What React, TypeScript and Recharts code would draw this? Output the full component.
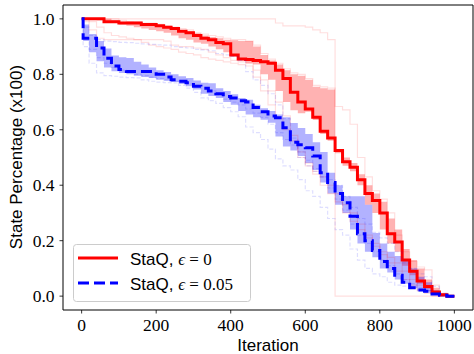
import React from "react";
import { ComposedChart, Line, Area, XAxis, YAxis, ReferenceArea } from "recharts";

// iteration grid (the extra 4 catches the first drop of the eps=0.05 curve)
const ITER = [
  0, 4, 20, 40, 60, 80, 100, 120, 140, 160, 180, 200, 220, 240, 260, 280, 300, 320, 340, 360, 380,
  400, 420, 440, 460, 480, 500, 520, 540, 560, 580, 600, 620, 640, 660, 680, 700, 720, 740, 760, 780,
  800, 820, 840, 860, 880, 900, 920, 940, 960, 980, 1000,
];

// StaQ, eps = 0
const RED_MEAN = [
  1.0, 1.0, 1.0, 1.0, 0.99, 0.99,
  0.985, 0.985, 0.985, 0.98, 0.98,
  0.975, 0.97, 0.965, 0.955, 0.95,
  0.94, 0.93, 0.925, 0.915, 0.91,
  0.87, 0.855, 0.853, 0.85, 0.845,
  0.84, 0.815, 0.785, 0.735, 0.7,
  0.675, 0.645, 0.595, 0.57, 0.525,
  0.485, 0.465, 0.42, 0.37, 0.345,
  0.3, 0.225, 0.195, 0.13, 0.09,
  0.055, 0.035, 0.015, 0.005, 0.0,
  0.0,
];
const RED_HI = [
  1.0, 1.0, 1.0, 1.0, 1.0, 0.995,
  0.99, 0.99, 0.985, 0.985, 0.98,
  0.978, 0.972, 0.965, 0.96, 0.955,
  0.948, 0.94, 0.935, 0.93, 0.925,
  0.923, 0.92, 0.92, 0.9, 0.87,
  0.85, 0.835, 0.815, 0.8, 0.795,
  0.78, 0.755, 0.75, 0.745, 0.53,
  0.5, 0.48, 0.44, 0.4, 0.37,
  0.34, 0.28, 0.24, 0.17, 0.13,
  0.1, 0.06, 0.03, 0.01, 0.0,
  0.0,
];
const RED_LO = [
  1.0, 1.0, 1.0, 0.995, 0.985, 0.985,
  0.98, 0.975, 0.97, 0.965, 0.96,
  0.955, 0.95, 0.94, 0.93, 0.925,
  0.915, 0.91, 0.9, 0.89, 0.88,
  0.865, 0.85, 0.84, 0.835, 0.8,
  0.78, 0.74, 0.7, 0.67, 0.66,
  0.665, 0.635, 0.585, 0.56, 0.515,
  0.47, 0.45, 0.4, 0.33, 0.3,
  0.24, 0.19, 0.16, 0.11, 0.075,
  0.045, 0.025, 0.01, 0.0, 0.0,
  0.0,
];
const RED_RUN_1 = [
  1.0, 1.0, 1.0, 1.0, 1.0, 1.0,
  1.0, 1.0, 1.0, 1.0, 1.0,
  1.0, 1.0, 1.0, 1.0, 1.0,
  1.0, 1.0, 1.0, 1.0, 1.0,
  1.0, 1.0, 1.0, 1.0, 1.0,
  1.0, 0.985, 0.975, 0.975, 0.975,
  0.97, 0.96, 0.95, 0.925, 0.0,
  0.0, 0.0, 0.0, 0.0, 0.0,
  0.0, 0.0, 0.0, 0.0, 0.0,
  0.0, 0.0, 0.0, 0.0, 0.0,
  0.0,
];
const RED_RUN_2 = [
  1.0, 1.0, 1.0, 1.0, 1.0, 1.0,
  0.995, 0.99, 0.99, 0.985, 0.985,
  0.98, 0.975, 0.97, 0.965, 0.96,
  0.95, 0.945, 0.94, 0.935, 0.93,
  0.925, 0.925, 0.92, 0.905, 0.875,
  0.855, 0.84, 0.82, 0.805, 0.8,
  0.785, 0.76, 0.755, 0.75, 0.684,
  0.672, 0.62, 0.5, 0.43, 0.38,
  0.35, 0.3, 0.22, 0.16, 0.125,
  0.105, 0.095, 0.04, 0.01, 0.0,
  0.0,
];
const RED_RUN_3 = [
  1.0, 0.99, 0.96, 0.93, 0.925, 0.925,
  0.925, 0.925, 0.925, 0.925, 0.925,
  0.925, 0.92, 0.905, 0.9, 0.9,
  0.895, 0.89, 0.88, 0.87, 0.86,
  0.85, 0.845, 0.84, 0.79, 0.74,
  0.69, 0.64, 0.6, 0.56, 0.52,
  0.48, 0.44, 0.4, 0.37, 0.34,
  0.3, 0.27, 0.24, 0.21, 0.18,
  0.15, 0.12, 0.09, 0.06, 0.04,
  0.02, 0.01, 0.0, 0.0, 0.0,
  0.0,
];
const RED_RUN_4 = [
  1.0, 1.0, 0.99, 0.97, 0.95, 0.94,
  0.935, 0.93, 0.925, 0.915, 0.905,
  0.9, 0.895, 0.89, 0.88, 0.875,
  0.87, 0.86, 0.855, 0.85, 0.845,
  0.84, 0.835, 0.83, 0.815, 0.78,
  0.74, 0.7, 0.65, 0.58, 0.5,
  0.47, 0.45, 0.43, 0.4, 0.37,
  0.33, 0.3, 0.26, 0.22, 0.19,
  0.16, 0.14, 0.12, 0.09, 0.06,
  0.04, 0.02, 0.01, 0.0, 0.0,
  0.0,
];

// StaQ, eps = 0.05
const BLUE_MEAN = [
  1.0, 0.93, 0.93, 0.895, 0.858, 0.83,
  0.817, 0.81, 0.81, 0.81, 0.81,
  0.8, 0.79, 0.78, 0.775, 0.77,
  0.757, 0.75, 0.74, 0.73, 0.72,
  0.715, 0.705, 0.7, 0.68, 0.665,
  0.65, 0.643, 0.607, 0.555, 0.546,
  0.535, 0.505, 0.445, 0.41, 0.37,
  0.337, 0.288, 0.225, 0.2, 0.165,
  0.125, 0.1, 0.075, 0.05, 0.03,
  0.022, 0.018, 0.008, 0.003, 0.0,
  0.0,
];
const BLUE_HI = [
  1.0, 0.98, 0.945, 0.92, 0.893, 0.868,
  0.862, 0.859, 0.845, 0.835, 0.825,
  0.815, 0.808, 0.8, 0.793, 0.787,
  0.778, 0.77, 0.768, 0.75, 0.74,
  0.728, 0.715, 0.708, 0.69, 0.678,
  0.668, 0.655, 0.645, 0.624, 0.606,
  0.585, 0.555, 0.52, 0.445, 0.4,
  0.36, 0.36, 0.36, 0.33, 0.228,
  0.19, 0.16, 0.145, 0.13, 0.1,
  0.07, 0.05, 0.02, 0.005, 0.0,
  0.0,
];
const BLUE_LO = [
  1.0, 0.92, 0.88, 0.847, 0.825, 0.811,
  0.805, 0.8, 0.795, 0.79, 0.787,
  0.78, 0.777, 0.772, 0.765, 0.757,
  0.745, 0.73, 0.722, 0.715, 0.7,
  0.69, 0.668, 0.655, 0.645, 0.636,
  0.625, 0.576, 0.54, 0.525, 0.505,
  0.48, 0.455, 0.41, 0.37, 0.33,
  0.3, 0.24, 0.19, 0.16, 0.14,
  0.1, 0.085, 0.06, 0.045, 0.028,
  0.018, 0.012, 0.005, 0.0, 0.0,
  0.0,
];
const BLUE_RUN_1 = [
  1.0, 0.97, 0.94, 0.925, 0.92, 0.918,
  0.915, 0.914, 0.912, 0.91, 0.908,
  0.906, 0.905, 0.9, 0.897, 0.895,
  0.89, 0.888, 0.885, 0.875, 0.87,
  0.865, 0.85, 0.81, 0.78, 0.76,
  0.73, 0.69, 0.64, 0.57, 0.5,
  0.47, 0.45, 0.43, 0.42, 0.4,
  0.36, 0.32, 0.28, 0.26, 0.23,
  0.21, 0.19, 0.16, 0.12, 0.1,
  0.08, 0.07, 0.035, 0.01, 0.0,
  0.0,
];
const BLUE_RUN_2 = [
  1.0, 0.9, 0.84, 0.805, 0.795, 0.793,
  0.79, 0.788, 0.787, 0.78, 0.775,
  0.772, 0.77, 0.769, 0.76, 0.75,
  0.735, 0.715, 0.705, 0.695, 0.68,
  0.665, 0.647, 0.61, 0.59, 0.565,
  0.53, 0.495, 0.47, 0.455, 0.42,
  0.38, 0.36, 0.32, 0.28, 0.24,
  0.22, 0.17, 0.13, 0.1, 0.08,
  0.07, 0.05, 0.04, 0.036, 0.03,
  0.024, 0.02, 0.01, 0.0, 0.0,
  0.0,
];
const BLUE_RUN_3 = [
  1.0, 0.93, 0.89, 0.86, 0.84, 0.825,
  0.815, 0.81, 0.8, 0.795, 0.79,
  0.785, 0.78, 0.775, 0.77, 0.765,
  0.76, 0.75, 0.74, 0.725, 0.71,
  0.7, 0.69, 0.675, 0.66, 0.645,
  0.62, 0.59, 0.565, 0.545, 0.52,
  0.49, 0.46, 0.43, 0.39, 0.35,
  0.31, 0.26, 0.22, 0.19, 0.16,
  0.13, 0.11, 0.08, 0.06, 0.045,
  0.03, 0.02, 0.01, 0.0, 0.0,
  0.0,
];

const X_TICKS = [0, 200, 400, 600, 800, 1000];
const Y_TICKS = [0, 0.2, 0.4, 0.6, 0.8, 1.0];
const LEGEND_LABELS = ["0", "0.05"];

const data = ITER.map((it, i) => ({
  it,
  rMean: RED_MEAN[i],
  rBand: [RED_LO[i], RED_HI[i]],
  r1: RED_RUN_1[i],
  r2: RED_RUN_2[i],
  r3: RED_RUN_3[i],
  r4: RED_RUN_4[i],
  bMean: BLUE_MEAN[i],
  bBand: [BLUE_LO[i], BLUE_HI[i]],
  b1: BLUE_RUN_1[i],
  b2: BLUE_RUN_2[i],
  b3: BLUE_RUN_3[i],
}));

const W = 474;
const H = 354;
const SERIF = "Liberation Serif";
const SANS = "Liberation Sans";

const faintRed = "rgba(255,0,0,0.13)";
const faintBlue = "rgba(0,0,255,0.13)";

// tick labels in a serif face, like the LaTeX-rendered originals
const XTick = ({ x, y, payload }: any) => (
  <text x={x} y={y + 15} textAnchor="middle" fontFamily={SERIF} fontSize={17.5} fill="#000">
    {payload.value}
  </text>
);
const YTick = ({ x, y, payload }: any) => (
  <text x={x} y={y + 6} textAnchor="end" fontFamily={SERIF} fontSize={17.5} fill="#000">
    {Number(payload.value).toFixed(1)}
  </text>
);

export default function App() {
  return (
    <div style={{ position: "absolute", left: 0, top: 0, width: W, height: H, background: "#fff" }}>
      <ComposedChart width={W} height={H} data={data} margin={{ top: 5, right: 1, bottom: 0, left: 0 }}>
        <XAxis
          dataKey="it"
          type="number"
          domain={[-50, 1050]}
          ticks={X_TICKS}
          interval={0}
          tick={<XTick />}
          tickSize={3.5}
          tickMargin={2}
          tickLine={{ stroke: "#000", strokeWidth: 0.8 }}
          axisLine={false}
          height={44}
          label={{
            content: () => (
              <text x={268} y={351} textAnchor="middle" fontFamily={SANS} fontSize={17} fill="#000">
                Iteration
              </text>
            ),
          }}
        />
        <YAxis
          type="number"
          domain={[-0.05, 1.05]}
          ticks={Y_TICKS}
          interval={0}
          tick={<YTick />}
          tickSize={3.5}
          tickMargin={5}
          tickLine={{ stroke: "#000", strokeWidth: 0.8 }}
          axisLine={false}
          width={63}
          label={{
            content: () => (
              <text
                x={22}
                y={157}
                transform="rotate(-90 22 157)"
                textAnchor="middle"
                fontFamily={SANS}
                fontSize={17}
                fill="#000"
              >
                State Percentage (x100)
              </text>
            ),
          }}
        />

        {/* individual runs, eps = 0 */}
        {["r1", "r2", "r3", "r4"].map((k) => (
          <Line key={k} dataKey={k} type="stepAfter" stroke={faintRed} strokeWidth={1.2} dot={false} isAnimationActive={false} />
        ))}
        <Area dataKey="rBand" type="stepAfter" fill="#ff0000" fillOpacity={0.3} stroke="none" isAnimationActive={false} />
        <Line dataKey="rMean" type="stepAfter" stroke="#ff0000" strokeWidth={3} dot={false} isAnimationActive={false} />

        {/* individual runs, eps = 0.05 */}
        {["b1", "b2", "b3"].map((k) => (
          <Line
            key={k}
            dataKey={k}
            type="stepAfter"
            stroke={faintBlue}
            strokeWidth={1.2}
            strokeDasharray="4 2"
            dot={false}
            isAnimationActive={false}
          />
        ))}
        <Area dataKey="bBand" type="stepAfter" fill="#0000ff" fillOpacity={0.3} stroke="none" isAnimationActive={false} />
        <Line
          dataKey="bMean"
          type="stepAfter"
          stroke="#0000ff"
          strokeWidth={3}
          strokeDasharray="11 5"
          dot={false}
          isAnimationActive={false}
        />

        <ReferenceArea x1={-50} x2={1050} y1={-0.05} y2={1.05} fill="none" stroke="#000" strokeWidth={1} />
      </ComposedChart>

      {/* legend */}
      <svg width={W} height={H} style={{ position: "absolute", left: 0, top: 0, pointerEvents: "none" }}>
        <rect x={73.5} y={244.5} width={177} height={57} rx={3} fill="#fff" fillOpacity={0.8} stroke="#cccccc" />
        <line x1={78} x2={118} y1={258} y2={258} stroke="#ff0000" strokeWidth={3} />
        <line x1={78} x2={118} y1={283} y2={283} stroke="#0000ff" strokeWidth={3} strokeDasharray="11 5" />
        {LEGEND_LABELS.map((v, i) => (
          <text key={v} x={130} y={264.5 + i * 25.5} fill="#000" fontSize={17}>
            <tspan fontFamily={SANS}>StaQ, </tspan>
            <tspan fontFamily={SERIF} fontStyle="italic">ϵ</tspan>
            <tspan fontFamily={SERIF}>{` = ${v}`}</tspan>
          </text>
        ))}
      </svg>
    </div>
  );
}
